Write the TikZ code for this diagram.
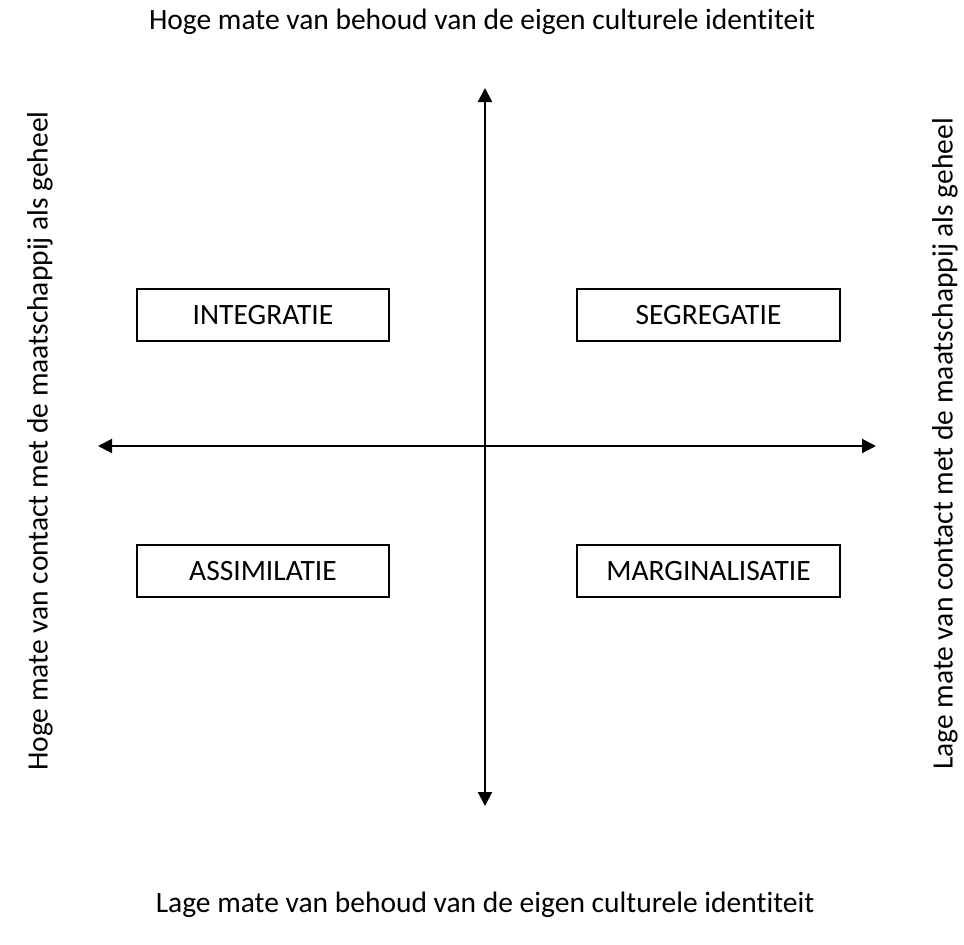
\documentclass[tikz,border=0pt]{standalone}
\usepackage{fontspec}
\setmainfont{Carlito}[Ligatures=NoCommon]
\usetikzlibrary{arrows.meta}
\begin{document}
\begin{tikzpicture}[x=1pt,y=-1pt,
  axis/.style={line width=2pt,{Triangle[length=14pt,width=14pt]}-{Triangle[length=14pt,width=14pt]}},
  quad/.style={draw,line width=2pt,minimum width=252pt,minimum height=52pt,inner sep=0pt,font=\fontsize{29.5}{34}\selectfont},
  lab/.style={font=\fontsize{29.5}{34}\selectfont,inner sep=0pt}]
\useasboundingbox (0,0) rectangle (964,945);
% axes
\coordinate (top) at (485,88);
\coordinate (bot) at (485,806);
\coordinate (lft) at (98,446);
\coordinate (rgt) at (876,446);
\draw[axis] (bot) -- (top);
\draw[axis] (lft) -- (rgt);
% quadrant labels
\node[quad] (int) at (263,315) {INTEGRATIE};
\node[quad,minimum width=263pt] (seg) at (708.5,315) {SEGREGATIE};
\node[quad] (ass) at (263,571) {ASSIMILATIE};
\node[quad,minimum width=263pt] (mar) at (708.5,571) {MARGINALISATIE};
% axis captions
\node[lab] (tl) at (482,22) {Hoge mate van behoud van de eigen culturele identiteit};
\node[lab] (bl) at (485,905) {Lage mate van behoud van de eigen culturele identiteit};
\node[lab,rotate=90] (ll) at (40,441) {Hoge mate van contact met de maatschappij als geheel};
\node[lab,rotate=90] (rl) at (945,444) {Lage mate van contact met de maatschappij als geheel};
\end{tikzpicture}
\end{document}
